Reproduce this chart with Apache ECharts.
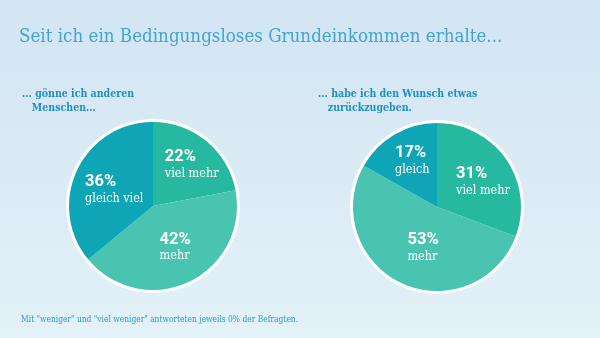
<!DOCTYPE html>
<html>
<head>
<meta charset="utf-8">
<script src="https://cdn.jsdelivr.net/npm/echarts@6/dist/echarts.min.js"></script>
<style>
html,body{margin:0;padding:0;}
#c{width:600px;height:338px;}
</style>
</head>
<body>
<div id="c"></div>
<script>
const titleText = 'Seit ich ein Bedingungsloses Grundeinkommen erhalte...';
const leftHeading = ['... gönne ich anderen', 'Menschen...'];
const rightHeading = ['... habe ich den Wunsch etwas', 'zurückzugeben.'];
const footnote = 'Mit "weniger" und "viel weniger" antworteten jeweils 0% der Befragten.';

const leftCategories = ['viel mehr', 'mehr', 'gleich viel'];
const leftValues = [22, 42, 36];
const rightCategories = ['viel mehr', 'mehr', 'gleich'];
const rightValues = [31, 53, 17];

const colors = ['#27b8a0', '#49c4b1', '#0ea6b6'];
const slab = '"DejaVu Serif Condensed", "DejaVu Serif", "Liberation Serif", serif';

function makeData(cats, vals, offsets) {
  return cats.map((c, i) => ({
    name: c, value: vals[i],
    itemStyle: { color: colors[i] },
    label: { offset: offsets[i] }
  }));
}

const labelStyle = {
  show: true,
  position: 'inside',
  formatter: '{p|{c}%}\n{n|{b}}',
  rich: {
    p: { fontFamily: 'Roboto', fontWeight: 'bold', fontSize: 16.5, color: '#fff', lineHeight: 17, align: 'left' },
    n: { fontFamily: slab, fontSize: 12.5, color: '#fff', lineHeight: 16, align: 'left' }
  }
};

function bgCircle(center) {
  return {
    type: 'pie', silent: true, center: center, radius: [0, 87],
    label: { show: false }, labelLine: { show: false },
    itemStyle: { color: '#ffffff' }, data: [{ value: 1, name: '' }], z: 1
  };
}

const chart = echarts.init(document.getElementById('c'), null, { renderer: 'canvas' });
chart.setOption({
  animation: false,
  backgroundColor: {
    type: 'linear', x: 0, y: 0, x2: 0, y2: 1,
    colorStops: [{ offset: 0, color: '#d2e5f3' }, { offset: 1, color: '#e3f1f8' }]
  },
  title: [
    { text: titleText, left: 19, top: 28, padding: 0, textStyle: { fontFamily: slab, fontWeight: 'normal', fontSize: 18.6, color: '#44a3d0' } },
    { text: leftHeading.join('\n   '), left: 22, top: 87, padding: 0, textStyle: { fontFamily: slab, fontWeight: 'bold', fontSize: 10.5, lineHeight: 14, color: '#1e8fc2' } },
    { text: rightHeading.join('\n   '), left: 318, top: 87, padding: 0, textStyle: { fontFamily: slab, fontWeight: 'bold', fontSize: 10.5, lineHeight: 14, color: '#1e8fc2' } },
    { text: footnote, left: 21, top: 316, padding: 0, textStyle: { fontFamily: slab, fontWeight: 'normal', fontSize: 8.4, color: '#2d9bc9' } }
  ],
  series: [
    bgCircle([153, 206]),
    {
      type: 'pie', center: [153, 206], radius: [0, 84], startAngle: 90, clockwise: true,
      silent: true, z: 2, labelLine: { show: false }, label: labelStyle,
      data: makeData(leftCategories, leftValues, [[10, -6], [3, 1], [2, 3]])
    },
    bgCircle([437, 207]),
    {
      type: 'pie', center: [437, 207], radius: [0, 84], startAngle: 90, clockwise: true,
      silent: true, z: 2, labelLine: { show: false }, label: labelStyle,
      data: makeData(rightCategories, rightValues, [[9, 1], [5, 0], [-2, -7]])
    }
  ]
});
</script>
</body>
</html>
